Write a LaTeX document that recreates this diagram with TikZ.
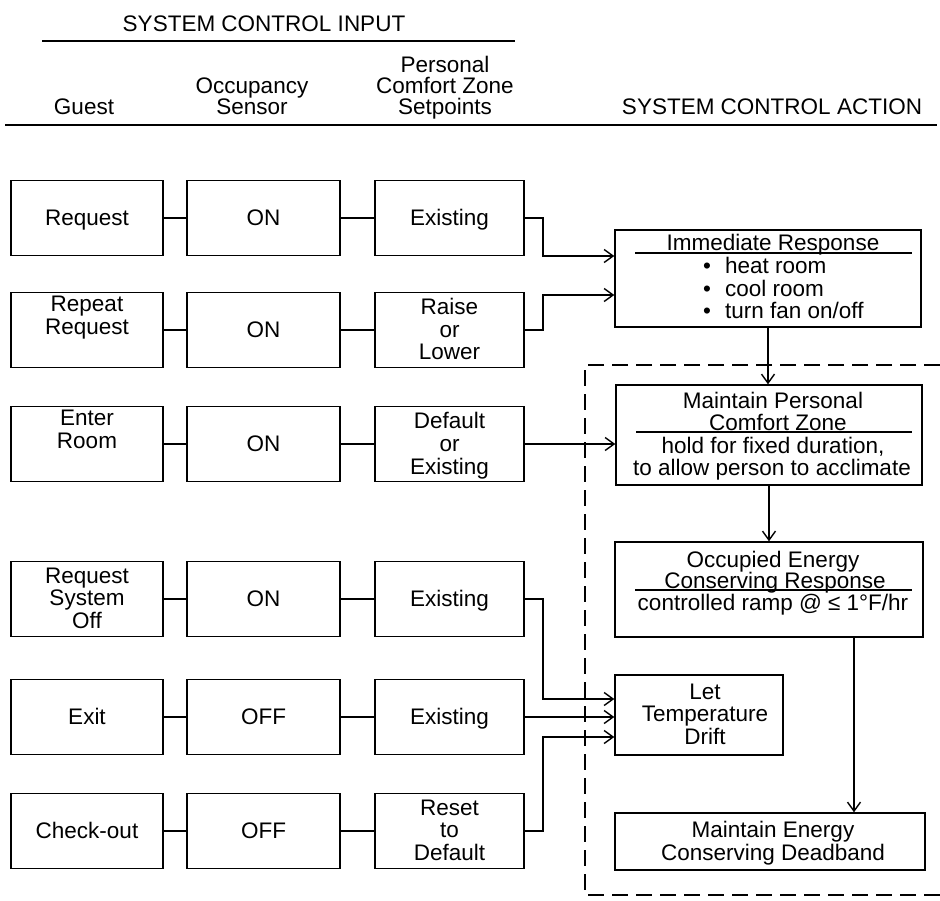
\documentclass[tikz,border=0pt]{standalone}
\usepackage{fontspec}
\setmainfont{Liberation Sans}
\usetikzlibrary{arrows.meta}
% centred stack of lines, lifted by #1 inside its box
\newcommand\boxlines[2][-7.8pt]{\raisebox{#1}[0pt][0pt]{\begin{tabular}{@{}c@{}}#2\end{tabular}}}
\newcommand\bulletitem[1]{•\hspace{14pt}#1}
\begin{document}
\begin{tikzpicture}[x=1pt,y=-1pt,
  every node/.style={font=\fontsize{22.5}{22.5}\selectfont, inner sep=0pt},
  box/.style={draw, rectangle, line width=1.4pt, minimum height=75pt},
  colA/.style={box, minimum width=152pt},
  colB/.style={box, minimum width=153pt},
  colC/.style={box, minimum width=149pt},
  link/.style={line width=1.4pt},
  arr/.style={line width=1.4pt, -{Straight Barb[length=9pt,width=13pt,line width=1.4pt]}},
  rulel/.style={line width=1.4pt},
  zone/.style={line width=1.4pt, dash pattern=on 16pt off 8pt},
  txt/.style={anchor=base}
]
\useasboundingbox (0,0) rectangle (940,900);

% ---- headings
\node[txt] (hdin) at (264,31) {SYSTEM CONTROL INPUT};
\draw[rulel] (42,41) -- (515,41);
\node[txt] (hdguest) at (84,114) {Guest};
\node[txt] (hdocc1) at (252,93) {Occupancy};
\node[txt] (hdocc2) at (252,114) {Sensor};
\node[txt] (hdpcz1) at (445,72) {Personal};
\node[txt] (hdpcz2) at (445,93) {Comfort Zone};
\node[txt] (hdpcz3) at (445,114) {Setpoints};
\node[txt] (hdact) at (772,114) {SYSTEM CONTROL ACTION};
\draw[rulel] (5,125) -- (937,125);

% ---- input rows: guest / occupancy sensor / setpoints
\node[colA] (g1) at (87,218) {\boxlines{Request}};
\node[colB] (s1) at (263.5,218) {\boxlines{ON}};
\node[colC] (p1) at (449.5,218) {\boxlines{Existing}};

\node[colA] (g2) at (87,330) {\boxlines[6.2pt]{Repeat\\Request}};
\node[colB] (s2) at (263.5,330) {\boxlines{ON}};
\node[colC] (p2) at (449.5,330) {\boxlines{Raise\\or\\Lower}};

\node[colA] (g3) at (87,444) {\boxlines[6.2pt]{Enter\\Room}};
\node[colB] (s3) at (263.5,444) {\boxlines{ON}};
\node[colC] (p3) at (449.5,444) {\boxlines{Default\\or\\Existing}};

\node[colA] (g4) at (87,599) {\boxlines{Request\\System\\Off}};
\node[colB] (s4) at (263.5,599) {\boxlines{ON}};
\node[colC] (p4) at (449.5,599) {\boxlines{Existing}};

\node[colA] (g5) at (87,717) {\boxlines{Exit}};
\node[colB] (s5) at (263.5,717) {\boxlines{OFF}};
\node[colC] (p5) at (449.5,717) {\boxlines{Existing}};

\node[colA] (g6) at (87,831) {\boxlines{Check-out}};
\node[colB] (s6) at (263.5,831) {\boxlines{OFF}};
\node[colC] (p6) at (449.5,831) {\boxlines{Reset\\to\\Default}};

\foreach \r in {1,...,6}{
  \draw[link] (g\r) -- (s\r);
  \draw[link] (s\r) -- (p\r);
}

% ---- control actions
\node[box, minimum width=306pt, minimum height=97pt] (imm) at (768,278.5) {};
\node[txt] (immt) at (773,250) {Immediate Response};
\draw[rulel] (635,253) -- (912,253);
\node[anchor=base west] (immb1) at (703,273) {\bulletitem{heat room}};
\node[anchor=base west] (immb2) at (703,296) {\bulletitem{cool room}};
\node[anchor=base west] (immb3) at (703,318) {\bulletitem{turn fan on/off}};

\node[box, minimum width=306pt, minimum height=100pt] (mpc) at (769,435) {};
\node[txt] (mpct1) at (773,408) {Maintain Personal};
\node[txt] (mpct2) at (778,430) {Comfort Zone};
\draw[rulel] (636,432) -- (912,432);
\node[txt] (mpct3) at (773,453) {hold for fixed duration,};
\node[txt] (mpct4) at (772,475) {to allow person to acclimate};

\node[box, minimum width=308pt, minimum height=95pt] (occ) at (769,589.5) {};
\node[txt] (occt1) at (773,567) {Occupied Energy};
\node[txt] (occt2) at (775,588) {Conserving Response};
\draw[rulel] (635,590) -- (912,590);
\node[txt] (occt3) at (773,610) {controlled ramp @ ≤ 1°F/hr};

\node[box, minimum width=168pt, minimum height=80pt] (let) at (699,715) {\hspace{12pt}\boxlines{Let\\Temperature\\Drift}};

\node[box, minimum width=310pt, minimum height=57pt] (med) at (770,841.5) {\hspace{6pt}\boxlines{Maintain Energy\\Conserving Deadband}};

% ---- connectors into the actions
\coordinate (jx) at (543,0);
\coordinate (drop) at (854,0);
\draw[arr] (p1.east) -- (p1.east -| jx) |- ([yshift=22.5pt]imm.west);
\draw[arr] (p2.east) -- (p2.east -| jx) |- ([yshift=-16.5pt]imm.west);
\draw[arr] (p3.east) -- (p3.east -| mpc.west);
\draw[arr] (p4.east) -- (p4.east -| jx) |- ([yshift=16pt]let.west);
\draw[arr] (p5.east) -- (p5.east -| let.west);
\draw[arr] (p6.east) -- (p6.east -| jx) |- ([yshift=-22pt]let.west);

\draw[arr] (imm.south) -- (imm.south |- mpc.north);
\draw[arr] (mpc.south) -- (mpc.south |- occ.north);
\draw[arr] (occ.south -| drop) -- (med.north -| drop);

% ---- occupied zone boundary
\draw[zone] (940,365) -| (585,895) -- (940,895);
\end{tikzpicture}
\end{document}
